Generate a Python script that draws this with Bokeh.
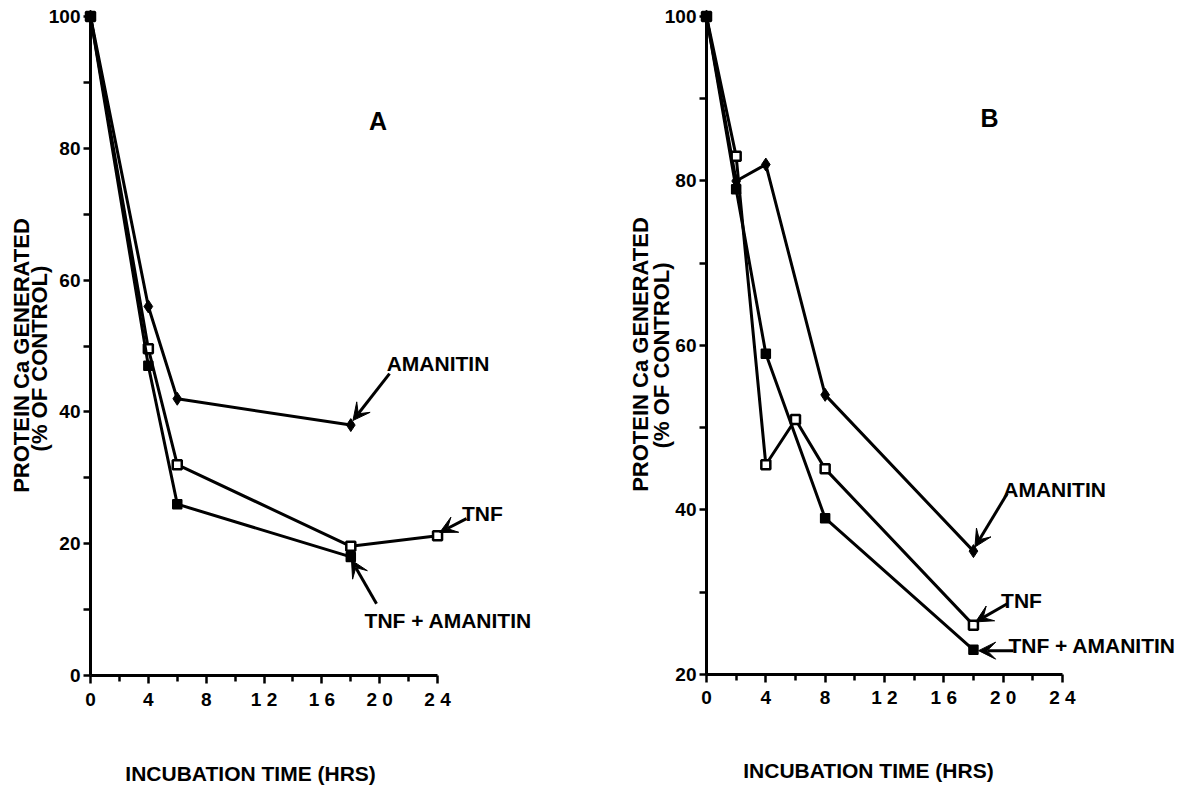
from bokeh.plotting import figure
from bokeh.models import FixedTicker, Label, Arrow, VeeHead
from bokeh.layouts import row
from bokeh.embed import file_html
from bokeh.resources import INLINE
import math

FONT = "Liberation Sans"

# ---------------- data ----------------
# Panel A
a_amanitin_hours = [0, 4, 6, 18]
a_amanitin_pct = [100, 56, 42, 38]
a_tnf_hours = [0, 4, 6, 18, 24]
a_tnf_pct = [100, 49.6, 32, 19.6, 21.2]
a_tnf_am_hours = [0, 4, 6, 18]
a_tnf_am_pct = [100, 47, 26, 18]

# Panel B
b_amanitin_hours = [0, 2, 4, 8, 18]
b_amanitin_pct = [100, 80, 82, 54, 35]
b_tnf_hours = [0, 2, 4, 6, 8, 18]
b_tnf_pct = [100, 83, 45.5, 51, 45, 26]
b_tnf_am_hours = [0, 2, 4, 8, 18]
b_tnf_am_pct = [100, 79, 59, 39, 23]

x_ticks = [0, 4, 8, 12, 16, 20, 24]
x_minor = [2, 6, 10, 14, 18, 22]
x_tick_labels = {0: "0", 4: "4", 8: "8", 12: "1 2", 16: "1 6", 20: "2 0", 24: "2 4"}
a_y_ticks = [0, 20, 40, 60, 80, 100]
a_y_minor = [10, 30, 50, 70, 90]
b_y_ticks = [20, 40, 60, 80, 100]
b_y_minor = [30, 50, 70, 90]

Y_TITLE_1 = "PROTEIN Ca GENERATED"
Y_TITLE_2 = "(% OF CONTROL)"
X_TITLE = "INCUBATION TIME (HRS)"

H = 786


def make_panel(width, x_range, y_range, y_ticks, y_minor, y_floor):
    p = figure(width=width, height=H, x_range=x_range, y_range=y_range,
               output_backend="svg", toolbar_location=None, title=None,
               min_border=0)
    p.grid.visible = False
    p.outline_line_color = None
    p.background_fill_color = "white"
    p.border_fill_color = "white"

    p.xaxis.ticker = FixedTicker(ticks=x_ticks, minor_ticks=x_minor)
    p.xaxis.major_label_overrides = x_tick_labels
    p.xaxis.bounds = (0, 24)
    p.xaxis.fixed_location = y_floor
    p.yaxis.ticker = FixedTicker(ticks=y_ticks, minor_ticks=y_minor)
    p.yaxis.bounds = (y_floor, 100)
    p.yaxis.fixed_location = 0

    for ax in (p.xaxis[0], p.yaxis[0]):
        ax.axis_line_width = 3
        ax.axis_line_color = "black"
        ax.major_tick_line_width = 2.5
        ax.minor_tick_line_width = 2.5
        ax.major_tick_in = 0
        ax.minor_tick_in = 0
        ax.major_label_text_font = FONT
        ax.major_label_text_font_style = "bold"
        ax.major_label_text_font_size = "19px"
        ax.major_label_text_color = "black"
    p.xaxis.major_tick_out = 8
    p.xaxis.minor_tick_out = 6
    p.xaxis.major_label_standoff = 5
    p.yaxis.major_tick_out = 7
    p.yaxis.minor_tick_out = 7
    p.yaxis.major_label_standoff = 3
    return p


def series(p, hours, pct, kind):
    p.line(hours, pct, line_width=3, line_color="black")
    if kind == "open":
        p.scatter(hours, pct, marker="square", size=9, fill_color="white",
                  line_color="black", line_width=2.5)
    elif kind == "filled":
        p.scatter(hours, pct, marker="square", size=9, fill_color="black",
                  line_color="black", line_width=1.5)
    else:
        p.scatter(hours, pct, marker="diamond", size=13, fill_color="black",
                  line_color="black", line_width=1)


def text(p, x, y, s, size="21px", angle=0.0):
    p.add_layout(Label(x=x, y=y, text=s, text_font=FONT, text_font_style="bold",
                       text_font_size=size, text_color="black", text_align="center",
                       text_baseline="middle", angle=angle))


def arrow(p, x0, y0, x1, y1):
    p.add_layout(Arrow(end=VeeHead(size=17, fill_color="black", line_color="black",
                                   line_width=1),
                       x_start=x0, y_start=y0, x_end=x1, y_end=y1,
                       line_width=3, line_color="black"))


# ---------------- Panel A ----------------
pa = make_panel(598, (-6.224, 35.13), (-16.84, 102.43), a_y_ticks, a_y_minor, 0)
series(pa, a_amanitin_hours, a_amanitin_pct, "diamond")
series(pa, a_tnf_hours, a_tnf_pct, "open")
series(pa, a_tnf_am_hours, a_tnf_am_pct, "filled")

text(pa, 19.88, 84.2, "A", size="25px")
text(pa, 24.03, 47.3, "AMANITIN")
arrow(pa, 20.68, 45.8, 18.15, 38.7)
text(pa, 27.1, 24.6, "TNF")
arrow(pa, 26.0, 23.8, 24.15, 21.7)
text(pa, 24.74, 8.35, "TNF + AMANITIN")
arrow(pa, 19.78, 10.9, 18.05, 17.5)
text(pa, -4.77, 48.56, Y_TITLE_1, size="22px", angle=math.pi / 2)
text(pa, -3.52, 48.1, Y_TITLE_2, size="22px", angle=math.pi / 2)
text(pa, 11.07, -14.87, X_TITLE)

# ---------------- Panel B ----------------
pb = make_panel(585, (-7.283, 32.164), (6.383, 101.945), b_y_ticks, b_y_minor, 20)
series(pb, b_amanitin_hours, b_amanitin_pct, "diamond")
series(pb, b_tnf_hours, b_tnf_pct, "open")
series(pb, b_tnf_am_hours, b_tnf_am_pct, "filled")

text(pb, 19.08, 87.6, "B", size="25px")
text(pb, 23.47, 42.5, "AMANITIN")
arrow(pb, 20.28, 42.0, 18.1, 35.5)
text(pb, 21.24, 29.0, "TNF")
arrow(pb, 20.28, 28.6, 18.15, 26.4)
text(pb, 26.0, 23.5, "TNF + AMANITIN")
arrow(pb, 20.7, 22.9, 18.35, 22.9)
text(pb, -4.45, 58.9, Y_TITLE_1, size="22px", angle=math.pi / 2)
text(pb, -3.06, 58.8, Y_TITLE_2, size="22px", angle=math.pi / 2)
text(pb, 10.92, 8.33, X_TITLE)

layout = row(pa, pb)
open("out.html", "w").write(file_html(layout, INLINE))
